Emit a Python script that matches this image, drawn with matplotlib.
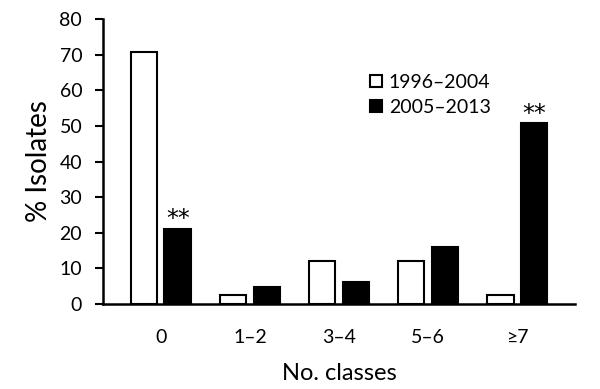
import matplotlib
matplotlib.use("Agg")
import matplotlib.pyplot as plt
import numpy as np

categories = ["0", "1\u20132", "3\u20134", "5\u20136", "\u22657"]
early = [70.7, 2.4, 12.2, 12.2, 2.4]
late = [21.1, 4.9, 6.3, 16.1, 50.7]
marks = ["**", "", "", "", "**"]
labels = ["1996\u20132004", "2005\u20132013"]

plt.rcParams["font.family"] = ["Lato", "DejaVu Sans"]

fig = plt.figure(figsize=(6, 3.89), dpi=100)
ax = fig.add_axes([0.1717, 0.2185, 0.7866, 0.7326])

x = np.arange(len(categories))
w = 0.3
off = 0.19
ax.bar(x - off, early, w, color="white", edgecolor="black", linewidth=1.5, label=labels[0])
ax.bar(x + off, late, w, color="black", edgecolor="black", linewidth=1.5, label=labels[1])

for xi, v, m in zip(x, late, marks):
    if m:
        ax.text(xi + off, v - 0.6, m, ha="center", va="bottom", fontsize=17,
                family="DejaVu Sans")

ax.set_xlim(-0.65, 4.65)
ax.set_ylim(0, 80)
ax.set_yticks(range(0, 81, 10))
ax.set_xticks(x)
ax.set_xticklabels(categories)
ax.tick_params(axis="x", length=0, pad=18, labelsize=14)
ax.tick_params(axis="y", length=6, width=1.5, direction="out", labelsize=14, pad=9)
for s in ["top", "right"]:
    ax.spines[s].set_visible(False)
ax.spines["left"].set_linewidth(1.8)
ax.spines["bottom"].set_linewidth(1.8)

ax.set_ylabel("% Isolates", fontsize=20, labelpad=5)
ax.set_xlabel("No. classes", fontsize=17, labelpad=12)

ax.legend(loc="upper left", bbox_to_anchor=(0.55, 0.835), frameon=False, fontsize=14,
          handlelength=0.6, handleheight=0.6, handletextpad=0.35, labelspacing=0.4,
          borderaxespad=0)

fig.savefig("out.png", dpi=100)
